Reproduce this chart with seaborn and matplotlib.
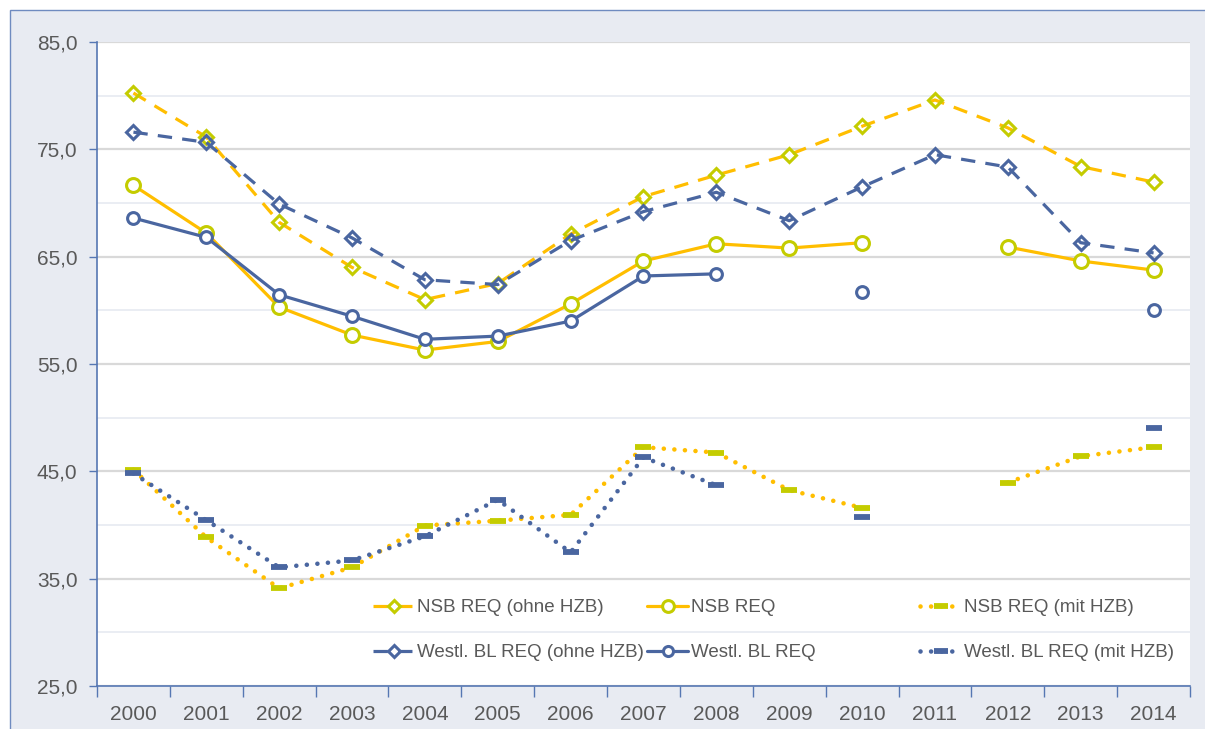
import numpy as np
import pandas as pd
import matplotlib.pyplot as plt
import seaborn as sns
from matplotlib.lines import Line2D
from matplotlib.patches import Rectangle
from matplotlib.ticker import FuncFormatter

# data (NaN = no value for that year)
years = list(range(2000, 2015))
nan = np.nan
nsb_ohne = [80.25, 76.15, 68.2, 64.0, 61.0, 62.5, 67.1, 70.6, 72.6, 74.5, 77.15, 79.6, 77.0, 73.4, 71.95]
nsb_req = [71.65, 67.2, 60.3, 57.7, 56.3, 57.1, 60.6, 64.6, 66.2, 65.8, 66.3, nan, 65.9, 64.6, 63.75]
nsb_mit = [45.15, 38.85, 34.1, 36.05, 39.95, 40.4, 40.95, 47.25, 46.75, 43.25, 41.6, nan, 43.95, 46.4, 47.25]
west_ohne = [76.6, 75.65, 69.9, 66.75, 62.85, 62.4, 66.5, 69.2, 71.0, 68.35, 71.5, 74.5, 73.35, 66.3, 65.35]
west_req = [68.6, 66.8, 61.45, 59.45, 57.3, 57.6, 59.0, 63.2, 63.4, nan, 61.7, nan, nan, nan, 60.0]
west_mit = [44.8, 40.45, 36.05, 36.7, 38.95, 42.35, 37.45, 46.3, 43.7, nan, 40.7, nan, nan, nan, 49.0]

labels = ["NSB REQ (ohne HZB)", "NSB REQ", "NSB REQ (mit HZB)",
          "Westl. BL REQ (ohne HZB)", "Westl. BL REQ", "Westl. BL REQ (mit HZB)"]
y_ticks = [25, 35, 45, 55, 65, 75, 85]

ORANGE = "#FFBE00"
LIME = "#C4CC00"
BLUE = "#4A66A0"
AXIS = "#5677B3"
TEXT = "#595959"

DASH = (0, (4.5, 3.2))
DOT = (0, (0.01, 2.3))

styles = [
    dict(color=ORANGE, linestyle=DASH, linewidth=2.3, marker="D", markersize=7.5,
         markerfacecolor="none", markeredgecolor=LIME, markeredgewidth=2.2),
    dict(color=ORANGE, linestyle="-", linewidth=2.3, marker="o", markersize=10,
         markerfacecolor="white", markeredgecolor=LIME, markeredgewidth=2.2),
    dict(color=ORANGE, linestyle=DOT, linewidth=3.3, dash_capstyle="round", marker="_",
         markersize=12, markeredgecolor=LIME, markeredgewidth=4.2),
    dict(color=BLUE, linestyle=DASH, linewidth=2.3, marker="D", markersize=7,
         markerfacecolor="none", markeredgecolor=BLUE, markeredgewidth=2.2),
    dict(color=BLUE, linestyle="-", linewidth=2.3, marker="o", markersize=8.5,
         markerfacecolor="white", markeredgecolor=BLUE, markeredgewidth=2.2),
    dict(color=BLUE, linestyle=DOT, linewidth=3.3, dash_capstyle="round", marker="_",
         markersize=12, markeredgecolor=BLUE, markeredgewidth=4.2),
]
series = [nsb_ohne, nsb_req, nsb_mit, west_ohne, west_req, west_mit]

sns.set_theme(style="white")
plt.rcParams["font.family"] = ["Liberation Sans", "DejaVu Sans"]

fig = plt.figure(figsize=(12.05, 7.29), dpi=100)
fig.add_artist(Rectangle((10 / 1205, -0.05), 1.05, (729 - 10) / 729 + 0.05,
                         transform=fig.transFigure, facecolor="#E8EBF2",
                         edgecolor="#6F8BC0", linewidth=1, zorder=-10))
ax = fig.add_axes([97 / 1205, 1 - 686 / 729, (1190 - 97) / 1205, (686 - 42) / 729])
ax.set_facecolor("white")


def draw(vals, style):
    # seaborn drops NaN rows, so draw each unbroken run on its own to keep the gaps
    s = pd.Series(vals, index=years)
    run = s.isna().cumsum()
    for _, seg in s.dropna().groupby(run[s.notna()]):
        sns.lineplot(x=seg.index.values, y=seg.values, ax=ax, legend=False,
                     errorbar=None, **style)


for vals, st in zip(series, styles):
    draw(vals, st)

ax.set_xlabel("")
ax.set_ylabel("")
ax.set_xlim(1999.5, 2014.5)
ax.set_ylim(25, 85)

ax.set_yticks(y_ticks)
ax.set_yticks([30, 40, 50, 60, 70, 80], minor=True)
ax.yaxis.set_major_formatter(FuncFormatter(lambda v, p: f"{v:.1f}".replace(".", ",")))
ax.set_xticks(years)
ax.set_xticks([y + 0.5 for y in range(1999, 2015)], minor=True)

ax.tick_params(axis="y", which="major", left=True, length=6, width=1, color=AXIS,
               direction="out", pad=8, labelsize=15, labelcolor=TEXT)
ax.tick_params(axis="y", which="minor", left=False, length=0)
ax.tick_params(axis="x", which="major", bottom=True, length=0, pad=14,
               labelsize=15, labelcolor=TEXT)
ax.tick_params(axis="x", which="minor", bottom=True, length=8, width=1, color=AXIS,
               direction="out")

ax.grid(axis="y", which="major", color="#D9D9D9", linewidth=1.6)
ax.grid(axis="y", which="minor", color="#E4E8F0", linewidth=1.1)
ax.grid(axis="x", visible=False)
ax.set_axisbelow(True)

for side in ["top", "right"]:
    ax.spines[side].set_visible(False)
for side in ["left", "bottom"]:
    ax.spines[side].set_color(AXIS)
    ax.spines[side].set_linewidth(1.2)

# legend: three columns of two rows, columns at fixed positions like the original
handles = [Line2D([], [], **st) for st in styles]
col_x = [373, 647, 920]
legends = []
for i, cx in enumerate(col_x):
    leg = ax.legend([handles[i], handles[i + 3]], [labels[i], labels[i + 3]],
                    loc="upper left", bbox_to_anchor=(cx / 1205, 1 - 599 / 729),
                    bbox_transform=fig.transFigure, frameon=False, borderpad=0,
                    borderaxespad=0, handlelength=2.2, handletextpad=0.15,
                    labelspacing=1.5, fontsize=13.5, markerscale=0.85)
    for t in leg.get_texts():
        t.set_color(TEXT)
    legends.append(leg)
for leg in legends[:-1]:
    ax.add_artist(leg)

fig.savefig("out.png", dpi=100)
